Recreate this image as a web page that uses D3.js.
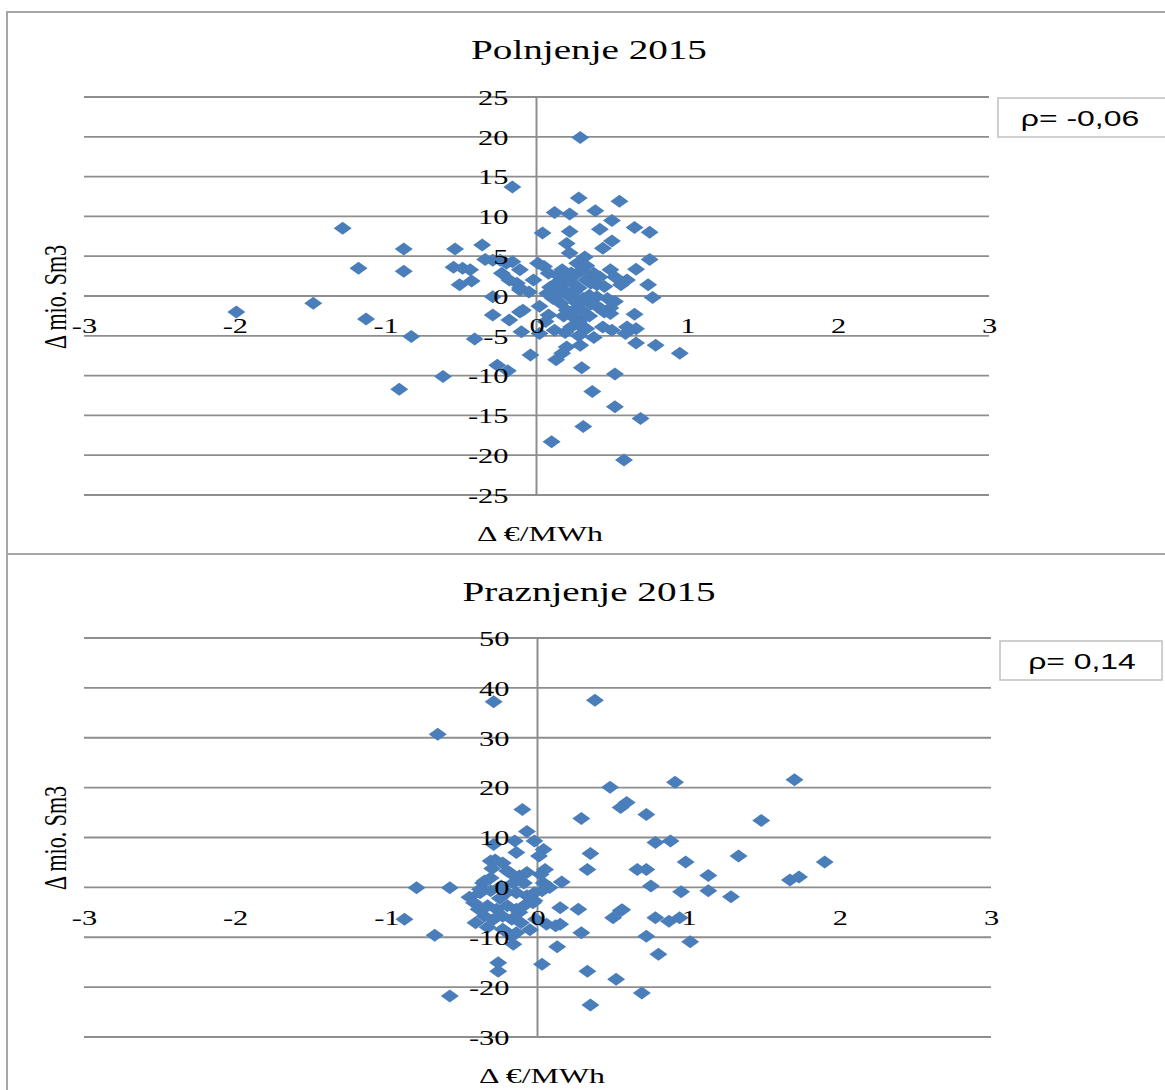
<!DOCTYPE html>
<html>
<head>
<meta charset="utf-8">
<script src="https://cdn.jsdelivr.net/npm/d3@7"></script>
<style>
  body { margin: 0; background: #fff; }
  svg { display: block; }
</style>
</head>
<body>
<div id="chart"></div>
<script>
// Data
const xTicks = [-3, -2, -1, 0, 1, 2, 3]

const polnjenjeYTicks = [-25, -20, -15, -10, -5, 0, 5, 10, 15, 20, 25]
const polnjenjeX = [-1.99, -1.48, -1.285, -1.18, -1.13, -0.88, -0.88, -0.83, -0.91, -0.62,
  -0.54, -0.55, -0.49, -0.44, -0.51, -0.43, -0.36, -0.34, -0.24, -0.16,
  -0.23, -0.11, -0.13, -0.11, -0.29, -0.29, -0.11, -0.09, -0.10, -0.41,
  -0.04, -0.26, -0.19, -0.16, 0.04, -0.02, 0.29, 0.28, 0.55, 0.12,
  0.22, 0.39, 0.50, 0.42, 0.65, 0.75, 0.22, 0.50, 0.44, 0.20,
  0.22, 0.32, 0.27, 0.75, 0.66, 0.74, 0.77, 0.05, 0.08, 0.17,
  0.20, 0.13, 0.38, 0.42, 0.49, 0.52, 0.56, 0.33, 0.40, 0.45,
  0.24, 0.28, 0.07, 0.11, 0.16, 0.22, 0.27, 0.31, 0.35, 0.40,
  0.47, 0.52, 0.40, 0.45, 0.49, 0.20, 0.24, 0.28, 0.23, 0.08,
  0.12, 0.02, 0.33, 0.44, 0.50, 0.60, 0.66, 0.59, 0.65, 0.66,
  0.79, 0.95, 0.29, 0.20, 0.17, 0.13, 0.30, 0.52, 0.37, 0.52,
  0.69, 0.31, 0.10, 0.58, -0.18, 0.42, 0.49, 0.25, 0.30, 0.35,
  0.18, 0.14, 0.26, 0.36, 0.60, 0.30, -0.29, -0.20, -0.18, -0.11, 0.01,
  0.18, 0.26, 0.32, 0.36, 0.14, 0.30, 0.19, 0.38, 0.28, 0.33,
  0.23, 0.09, 0.02, -0.05, 0.06]
const polnjenjeY = [-2.0, -0.9, 8.5, 3.5, -2.9, 5.9, 3.1, -5.1, -11.7, -10.1,
  5.9, 3.6, 3.5, 3.3, 1.4, 1.9, 6.4, 4.6, 4.5, 4.3,
  2.85, 3.3, 1.6, 0.75, -0.1, -2.4, -2.0, -1.8, -4.5, -5.4,
  -7.4, -8.7, -9.4, 13.7, 7.9, 2.0, 19.9, 12.3, 11.9, 10.5,
  10.3, 10.7, 9.5, 8.4, 8.6, 8.0, 8.1, 6.9, 6.0, 6.6,
  5.4, 4.9, 4.1, 4.6, 3.35, 1.4, -0.2, 3.7, 2.85, 3.3,
  2.0, 1.6, 2.85, 2.4, 3.3, 2.4, 1.4, 2.0, 1.4, 1.2,
  1.6, 1.0, 0.3, -0.3, -0.9, -0.1, -0.9, -0.3, 0.1, -0.1,
  -0.3, -0.7, -1.3, -2.0, -1.5, -1.8, -2.6, -3.4, -3.9, -2.4,
  -4.3, -4.7, -4.1, -3.9, -4.3, -3.9, -4.1, -4.7, -2.3, -5.9,
  -6.2, -7.2, -6.2, -6.4, -7.2, -8.0, -9.0, -9.8, -12.0, -13.9,
  -15.4, -16.4, -18.3, -20.6, -3.0, -1.5, -2.2, 0.5, -1.8, -2.5,
  0.8, 2.6, 2.7, -1.0, 2.0, 3.2, 4.5, 4.1, 2.0, 1.0, 4.1,
  -2.5, -1.6, -2.6, 1.6, 0.2, -3.9, -4.6, -5.2, -5.0, 3.8,
  2.9, 1.1, -1.3, 0.5, -3.2]

const praznjenjeYTicks = [-30, -20, -10, 0, 10, 20, 30, 40, 50]
const praznjenjeX = [-0.29, 0.38, -0.66, 0.48, 0.91, 1.70, 0.59, 0.55, -0.10, 0.29,
  0.72, 1.48, -0.07, 0.78, 0.88, 0.35, 1.33, 0.98, 1.90, 0.33,
  0.66, 0.72, 1.13, 1.67, 1.73, 0.75, 0.95, 1.13, 1.28, -0.80,
  -0.58, -0.29, -0.15, -0.14, -0.02, 0.04, 0.01, -0.28, -0.23, -0.18,
  0.05, 0.16, 0.04, 0.03, -0.36, -0.31, -0.16, -0.12, -0.07, -0.09,
  -0.38, -0.42, -0.14, -0.07, -0.03, 0.15, 0.27, 0.55, -0.31, -0.20,
  -0.35, -0.38, -0.31, -0.24, -0.02, -0.02, -0.39, -0.33, -0.27, -0.20,
  -0.14, -0.09, -0.41, -0.35, -0.29, -0.23, -0.17, 0.06, 0.12, 0.15,
  -0.68, -0.20, -0.17, -0.14, -0.16, 0.13, -0.26, -0.26, 0.03, 0.02,
  -0.88, -0.58, 0.29, 0.33, 0.35, 0.50, 0.52, -0.23, -0.11, -0.01,
  0.56, 0.78, 0.87, 0.94, 0.72, 1.01, 0.80, 0.69,
  -0.45, -0.33, -0.25, -0.12, -0.05, -0.20, 0.08, -0.30]
const praznjenjeY = [37.2, 37.5, 30.7, 20.1, 21.1, 21.6, 17.0, 16.0, 15.6, 13.8,
  14.6, 13.4, 11.2, 9.0, 9.3, 6.8, 6.3, 5.1, 5.1, 3.6,
  3.6, 3.6, 2.4, 1.5, 2.1, 0.3, -0.9, -0.7, -1.9, -0.1,
  -0.1, 8.6, 9.3, 7.0, 9.3, 7.6, 6.3, 5.5, 4.9, 2.9,
  3.6, 1.1, 0.9, -0.7, 0.9, 1.9, 0.9, 2.3, 3.0, 0.9,
  -1.1, -3.1, -1.1, -1.7, -3.1, -4.1, -4.4, -4.7, 5.3, 3.3,
  1.3, -0.4, -0.7, 0.3, -1.1, -2.7, -4.4, -3.7, -4.4, -3.7,
  -4.4, -3.7, -7.1, -5.8, -6.4, -5.8, -6.4, -7.4, -7.7, -7.4,
  -9.6, -9.1, -9.8, -9.1, -11.4, -11.9, -15.1, -16.8, -15.4, 2.6,
  -6.4, -21.8, -9.1, -16.8, -23.6, -6.1, -18.4, -8.4, -7.1, -6.4,
  -4.5, -6.1, -6.8, -6.1, -9.8, -10.9, -13.4, -21.2,
  -2.0, -8.0, -2.2, -5.0, -8.5, -1.0, 0.0, 3.8]

const titles = ['Polnjenje 2015', 'Praznjenje 2015']
const rhoLabels = ['ρ= -0,06', 'ρ= 0,14']
const xTitle = 'Δ €/MWh'
const yTitle = 'Δ mio. Sm3'

// the picture is stretched sideways, so is the text
const sx = 1.45
const width = 1165, height = 1090
const serif = '"Liberation Serif", "Times New Roman", serif'
const grid = '#8e8e8e'
const blue = '#4a7ebb'

const svg = d3.select('#chart').append('svg')
  .attr('width', width)
  .attr('height', height)

// outer frames
svg.append('path')
  .attr('d', `M7,${height} V12 H${width}`)
  .attr('fill', 'none').attr('stroke', '#a6a6a6').attr('stroke-width', 2)
svg.append('line')
  .attr('x1', 7).attr('x2', width).attr('y1', 554).attr('y2', 554)
  .attr('stroke', '#a6a6a6').attr('stroke-width', 2)

let stretchText = (sel, dx, dy) => {
  sel.attr('x', 0).attr('y', 0)
    .attr('transform', `translate(${dx},${dy}) scale(${sx},1)`)
}

let panel = (cfg) => {
  const g = svg.append('g')
  const x = d3.scaleLinear().domain([-3, 3]).range(cfg.xRange)
  const y = d3.scaleLinear().domain(d3.extent(cfg.yTicks)).range(cfg.yRange)

  // title
  g.append('text')
    .attr('transform', `translate(${cfg.titlePos[0]},${cfg.titlePos[1]}) scale(${sx},1)`)
    .attr('text-anchor', 'middle')
    .style('font-family', serif).style('font-size', '27px')
    .text(cfg.title)

  // horizontal grid
  g.selectAll('.grid')
    .data(cfg.yTicks)
    .enter()
    .append('line')
    .attr('x1', x(-3)).attr('x2', x(3))
    .attr('y1', d => y(d)).attr('y2', d => y(d))
    .attr('stroke', grid).attr('stroke-width', 1.8)

  // vertical value axis at x = 0
  g.append('line')
    .attr('x1', x(0)).attr('x2', x(0))
    .attr('y1', y.range()[0]).attr('y2', y.range()[1])
    .attr('stroke', grid).attr('stroke-width', 2)

  // points
  const pts = cfg.xs.map((d, i) => [d, cfg.ys[i]])
  g.selectAll('.pt')
    .data(pts)
    .enter()
    .append('path')
    .attr('d', 'M0,-6.5L9,0L0,6.5L-9,0Z')
    .attr('transform', d => `translate(${x(d[0])},${y(d[1])})`)
    .attr('fill', blue)

  // axes labels
  const yAx = g.append('g')
    .attr('transform', `translate(${x(0)},0)`)
    .call(d3.axisLeft(y).tickValues(cfg.yTicks).tickSize(0).tickFormat(d => String(d)))
  yAx.select('.domain').remove()
  yAx.attr('font-family', serif).attr('font-size', 21)
  yAx.selectAll('text').attr('fill', '#000').attr('dy', '0.35em')
    .call(stretchText, -28, 0)

  const xAx = g.append('g')
    .attr('transform', `translate(0,${y(0)})`)
    .call(d3.axisBottom(x).tickValues(xTicks).tickSize(0).tickFormat(d => String(d)))
  xAx.select('.domain').remove()
  xAx.attr('font-family', serif).attr('font-size', 21)
  xAx.selectAll('text').attr('fill', '#000').attr('dy', '0.35em')
    .call(stretchText, 0, 30)

  // axis titles
  g.append('text')
    .attr('transform', `translate(${cfg.xTitlePos[0]},${cfg.xTitlePos[1]}) scale(${sx},1)`)
    .attr('text-anchor', 'middle')
    .style('font-family', serif).style('font-size', '22px')
    .text(xTitle)
  g.append('text')
    .attr('transform', `translate(${cfg.yTitlePos[0]},${cfg.yTitlePos[1]}) scale(${sx},1) rotate(-90)`)
    .attr('text-anchor', 'middle')
    .style('font-family', serif).style('font-size', '22px')
    .text(yTitle)

  // correlation box
  g.append('rect')
    .attr('x', cfg.box[0]).attr('y', cfg.box[1])
    .attr('width', cfg.box[2]).attr('height', cfg.box[3])
    .attr('fill', '#fff').attr('stroke', '#c0c0c0').attr('stroke-width', 1.5)
  g.append('text')
    .attr('transform', `translate(${cfg.box[0] + 82},${cfg.box[1] + 28}) scale(${sx},1)`)
    .attr('text-anchor', 'middle')
    .style('font-family', '"Liberation Sans", Arial, sans-serif').style('font-size', '22px')
    .text(cfg.rho)
}

panel({
  title: titles[0], rho: rhoLabels[0],
  xs: polnjenjeX, ys: polnjenjeY, yTicks: polnjenjeYTicks,
  xRange: [84, 989], yRange: [495, 97],
  titlePos: [589, 59], xTitlePos: [540, 541], yTitlePos: [66, 297],
  box: [998, 98, 175, 39]
})

panel({
  title: titles[1], rho: rhoLabels[1],
  xs: praznjenjeX, ys: praznjenjeY, yTicks: praznjenjeYTicks,
  xRange: [84, 991], yRange: [1037, 638],
  titlePos: [589, 601], xTitlePos: [542, 1083], yTitlePos: [66, 838],
  box: [1000, 641, 162, 39]
})
</script>
</body>
</html>
